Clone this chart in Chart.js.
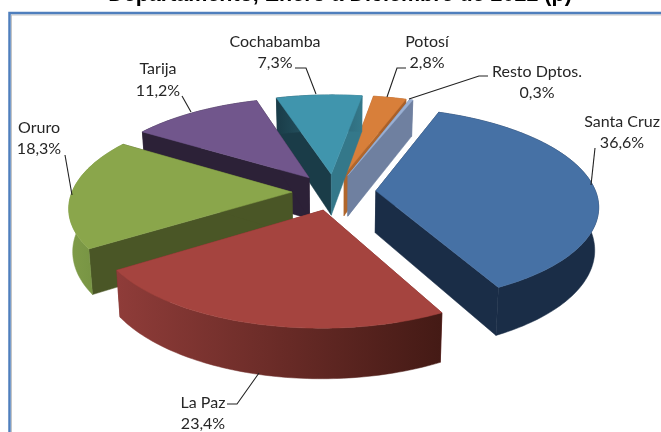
<!DOCTYPE html>
<html lang="es">
<head>
  <meta charset="UTF-8" />
  <title>Departamento, Enero a Diciembre de 2022 (p)</title>
  <script src="https://cdn.jsdelivr.net/npm/chart.js"></script>
  <style>
    html, body { margin: 0; padding: 0; background: #fff; overflow: hidden; }
    canvas { display: block; filter: blur(0.35px); }
  </style>
</head>
<body>
  <canvas id="grafico" width="661" height="432"></canvas>

  <script>
    var departamentos = ["Santa Cruz", "La Paz", "Oruro", "Tarija", "Cochabamba", "Potosí", "Resto Dptos."];
    var porcentajes = [36.6, 23.4, 18.3, 11.2, 7.3, 2.8, 0.3];
    var etiquetasValor = ["36,6%", "23,4%", "18,3%", "11,2%", "7,3%", "2,8%", "0,3%"];

    // colores: cara superior, pared (inicio y fin del degradado), caras radiales
    var colorTop = ["#4671a5", "#a5443f", "#8aa64b", "#71568c", "#4095ad", "#d87f3a", "#9ab0d4"];
    var colorParedA = ["#1a2d47", "#8f3c39", "#7f9c48", "#2c2137", "#1a3c48", "#a8602a", "#6f80a0"];
    var colorParedB = ["#1a2d47", "#441a15", "#6f8b3e", "#2c2137", "#34788a", "#a8602a", "#6f80a0"];
    var colorCaraIni = ["#1a2d47", "#7a2d2a", "#4a5626", "#2c2137", "#1a3c48", "#b0662c", "#6f80a0"];
    var colorCaraFin = ["#1a2d47", "#7a2d2a", "#4a5626", "#2c2137", "#34788a", "#b0662c", "#6f80a0"];

    // orden de pintado, de atras hacia adelante
    var ordenPintado = [5, 6, 4, 3, 2, 0, 1];

    // proyeccion del disco
    var centroX = 334, centroY = 192;
    var radio = 220, separacion = 42;
    var inclinacion = 0.434, perspectiva = 0.143, profundidad = 42, convergencia = 0.015;

    // texto: x centro, y nombre, y valor (mismo orden que departamentos)
    var posEtiquetas = [
      [622, 122, 143], [203, 403, 424], [39, 128, 149], [158, 69, 91],
      [275, 42, 63], [427, 42, 63], [537, 72, 93]
    ];
    var guias = [
      [[595, 148], [591, 185]],
      [[227, 404], [237, 404], [259, 373]],
      [[65, 155], [72, 195]],
      [[182, 96], [191, 112]],
      [[295, 68], [306, 68], [316, 94]],
      [[406, 68], [397, 68], [387, 97]],
      [[488, 76], [479, 76], [409, 99]]
    ];

    function proyectar(arc, r, ang, z) {
      var medio = (arc.startAngle + arc.endAngle) / 2;
      var off = arc.options.offset / arc.outerRadius;
      var u = off * Math.cos(medio) + r * Math.cos(ang);
      var v = -(off * Math.sin(medio) + r * Math.sin(ang));
      var f = 1 / (1 + perspectiva * v);
      return {
        x: centroX + radio * u * f * (1 - convergencia * z),
        y: centroY - radio * inclinacion * v * f + z * profundidad * f
      };
    }

    function poligono(ctx, puntos, relleno) {
      ctx.beginPath();
      for (var i = 0; i < puntos.length; i++) {
        if (i === 0) ctx.moveTo(puntos[i].x, puntos[i].y);
        else ctx.lineTo(puntos[i].x, puntos[i].y);
      }
      ctx.closePath();
      ctx.fillStyle = relleno;
      ctx.fill();
      ctx.strokeStyle = relleno;
      ctx.lineWidth = 0.5;
      ctx.stroke();
    }

    function bordeArco(arc, z) {
      var pts = [];
      var n = Math.max(2, Math.ceil((arc.endAngle - arc.startAngle) / 0.02));
      for (var i = 0; i <= n; i++) {
        var a = arc.startAngle + (arc.endAngle - arc.startAngle) * i / n;
        pts.push(proyectar(arc, 1, a, z));
      }
      return pts;
    }

    var pie3d = {
      id: "pie3d",
      beforeDraw: function(chart) {
        var ctx = chart.ctx;
        ctx.save();
        ctx.strokeStyle = "#c4c4c4";
        ctx.lineWidth = 1;
        ctx.strokeRect(11.5, 15, 720, 480);
        ctx.strokeStyle = "#4f7fbd";
        ctx.lineWidth = 2.5;
        ctx.strokeRect(9.5, 13, 720, 480);
        ctx.restore();
      },
      beforeDatasetsDraw: function(chart) {
        var ctx = chart.ctx;
        var arcs = chart.getDatasetMeta(0).data;
        ctx.save();
        for (var k = 0; k < ordenPintado.length; k++) {
          var i = ordenPintado[k];
          var arc = arcs[i];
          var apice = proyectar(arc, 0, 0, 0);
          var apiceZ = proyectar(arc, 0, 0, 1);
          var arriba = bordeArco(arc, 0);
          var abajo = bordeArco(arc, 1);

          poligono(ctx, [apice, arriba[0], abajo[0], apiceZ], colorCaraIni[i]);
          poligono(ctx, [apice, arriba[arriba.length - 1], abajo[abajo.length - 1], apiceZ], colorCaraFin[i]);

          var xs = arriba.map(function(p) { return p.x; });
          var g = ctx.createLinearGradient(Math.min.apply(null, xs), 0, Math.max.apply(null, xs), 0);
          g.addColorStop(0, colorParedA[i]);
          g.addColorStop(1, colorParedB[i]);
          poligono(ctx, arriba.concat(abajo.slice().reverse()), g);

          poligono(ctx, [apice].concat(arriba), colorTop[i]);
        }
        ctx.restore();
        return false;
      },
      afterDraw: function(chart) {
        var ctx = chart.ctx;
        ctx.save();
        ctx.strokeStyle = "#222";
        ctx.lineWidth = 1.1;
        for (var i = 0; i < guias.length; i++) {
          ctx.beginPath();
          ctx.moveTo(guias[i][0][0], guias[i][0][1]);
          for (var j = 1; j < guias[i].length; j++) ctx.lineTo(guias[i][j][0], guias[i][j][1]);
          ctx.stroke();
        }
        ctx.fillStyle = "#262626";
        ctx.font = "16px Lato";
        ctx.textAlign = "center";
        ctx.textBaseline = "middle";
        for (var d = 0; d < departamentos.length; d++) {
          ctx.fillText(departamentos[d], posEtiquetas[d][0], posEtiquetas[d][1]);
          ctx.fillText(etiquetasValor[d], posEtiquetas[d][0], posEtiquetas[d][2]);
        }
        ctx.restore();
      }
    };

    new Chart(document.getElementById("grafico"), {
      type: "pie",
      data: {
        labels: departamentos,
        datasets: [{
          data: porcentajes,
          backgroundColor: colorTop,
          offset: separacion,
          borderWidth: 0
        }]
      },
      options: {
        responsive: false,
        animation: false,
        radius: radio,
        rotation: 20.5,
        layout: { padding: { left: 19 } },
        plugins: {
          legend: { display: false },
          tooltip: { enabled: false },
          title: {
            display: true,
            text: "Departamento, Enero a Diciembre de 2022 (p)",
            color: "#000",
            font: { family: "Liberation Sans", size: 21.5, weight: "bold" },
            padding: { top: -18, bottom: 0 }
          }
        }
      },
      plugins: [pie3d]
    });
  </script>
</body>
</html>
